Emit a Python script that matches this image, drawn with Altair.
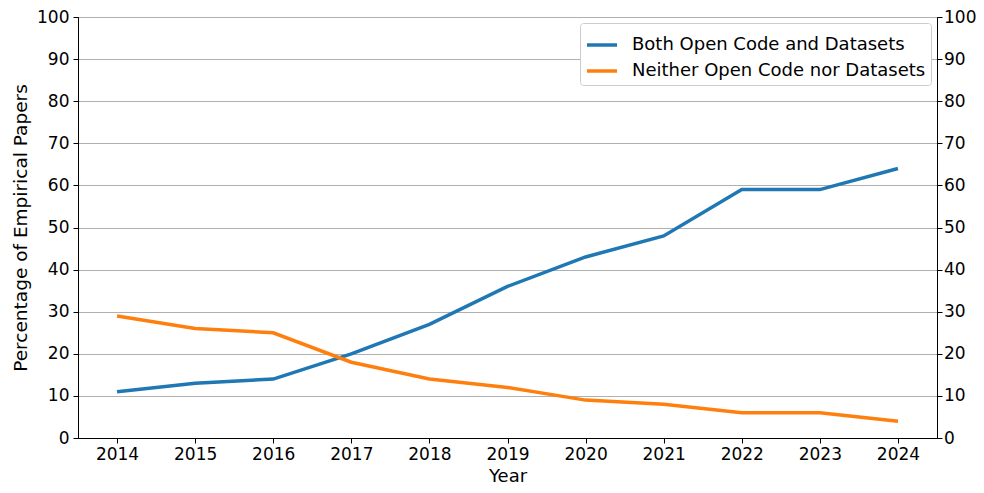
import altair as alt
import pandas as pd

years = [2014, 2015, 2016, 2017, 2018, 2019, 2020, 2021, 2022, 2023, 2024]
both = [11, 13, 14, 20, 27, 36, 43, 48, 59, 59, 64]
neither = [29, 26, 25, 18, 14, 12, 9, 8, 6, 6, 4]
series_names = ["Both Open Code and Datasets", "Neither Open Code nor Datasets"]
colors = ["#1f77b4", "#ff7f0e"]

rows = []
for y, b, n in zip(years, both, neither):
    rows.append({"Year": y, "Series": series_names[0], "Value": b})
    rows.append({"Year": y, "Series": series_names[1], "Value": n})
df = pd.DataFrame(rows)

FONT = "DejaVu Sans"
LBL = 17
TTL = 18.5

xscale = alt.Scale(domain=[2013.5, 2024.5], nice=False, zero=False)
xaxis = alt.Axis(values=years, format="d", title="Year", grid=False,
                 labelFontSize=LBL, titleFontSize=18, tickSize=5,
                 labelPadding=3, titlePadding=5,
                 domainColor="black", tickColor="black", labelColor="black",
                 titleColor="black", titleFontWeight="normal")
yscale = alt.Scale(domain=[0, 100], nice=False)

left = alt.Chart(df).mark_line(strokeWidth=3.5).encode(
    x=alt.X("Year:Q", scale=xscale, axis=xaxis),
    y=alt.Y("Value:Q", scale=yscale,
            axis=alt.Axis(values=list(range(0, 101, 10)), title="Percentage of Empirical Papers",
                          orient="left", grid=True, gridColor="#b0b0b0", gridWidth=1,
                          labelFontSize=LBL, titleFontSize=TTL, tickSize=5, labelPadding=4,
                          titlePadding=6, domainColor="black", tickColor="black",
                          labelColor="black", titleColor="black", titleFontWeight="normal")),
    color=alt.Color("Series:N", scale=alt.Scale(domain=series_names, range=colors),
                    legend=alt.Legend(title=None, orient="none", legendX=502, legendY=6,
                                      symbolType="stroke", symbolStrokeWidth=3.5, symbolSize=900,
                                      labelFontSize=18, labelFont=FONT, fillColor="white",
                                      strokeColor="#cccccc", padding=5, cornerRadius=3,
                                      rowPadding=-4, labelOffset=13, labelColor="black",
                                      labelLimit=400)),
)

right = alt.Chart(df).mark_line(opacity=0).encode(
    x=alt.X("Year:Q", scale=xscale, axis=xaxis),
    y=alt.Y("Value:Q", scale=yscale,
            axis=alt.Axis(values=list(range(0, 101, 10)), title=None, orient="right", grid=False,
                          labelFontSize=LBL, tickSize=5, labelPadding=1.5, domainColor="black",
                          tickColor="black", labelColor="black")),
    detail="Series:N",
)

chart = alt.layer(left, right).resolve_axis(y="independent").properties(
    width=859, height=421,
    autosize=alt.AutoSizeParams(type="none"),
    padding={"left": 70, "top": 9, "right": 39, "bottom": 47},
).configure(font=FONT).configure_view(stroke="black", strokeWidth=1)

chart.save("out.html", embed_options={"renderer": "svg", "actions": False})
